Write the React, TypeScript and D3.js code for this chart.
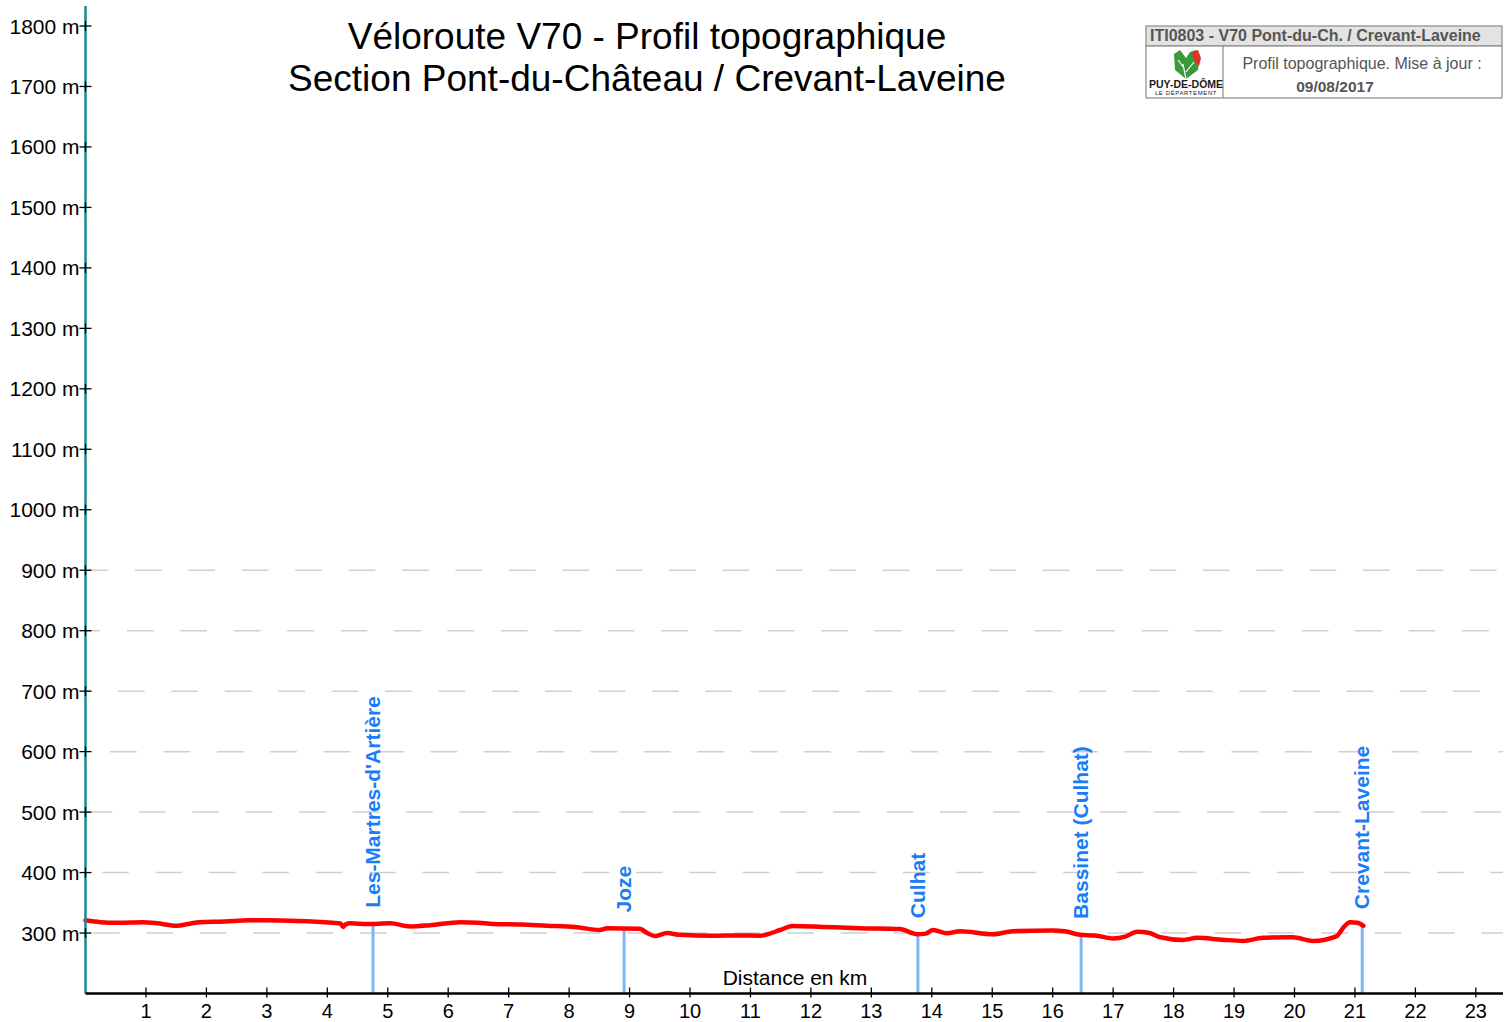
import * as d3 from "d3";

// profile: [km, altitude m]
const profileKm = [
  0, 0.25, 0.52, 0.95, 1.2, 1.51, 1.7, 1.89, 2.3, 2.7, 3.0, 3.5, 4.09, 4.22, 4.26, 4.3, 4.38, 4.66,
  5.04, 5.37, 5.7, 6.2, 6.5, 6.74, 7.2, 7.63, 8.1, 8.51, 8.63, 9.17, 9.29, 9.42, 9.62, 9.83, 10.38,
  10.8, 11.16, 11.32, 11.49, 11.7, 12.2, 12.81, 13.47, 13.76, 13.9, 14.02, 14.25, 14.47, 15.01, 15.34,
  16.0, 16.2, 16.45, 16.7, 17.0, 17.2, 17.4, 17.6, 17.78, 18.16, 18.39, 18.8, 19.15, 19.48, 19.97,
  20.31, 20.7, 20.8, 20.92, 21.04, 21.14,
];
const profileAlt = [
  321, 318, 317, 318, 316, 312, 315, 318, 319, 321, 321, 320, 317, 316, 310, 314, 316, 315,
  316, 311, 313, 318, 317, 315, 314, 312, 310, 305, 308, 307, 300, 295, 300, 297, 295.5,
  296, 295.5, 299, 305, 311.6, 310, 308, 306.6, 298, 299, 305, 299.5, 303, 298, 303,
  304, 303, 297, 296, 291, 294, 302, 300, 293, 288.5, 292, 289, 287, 292, 293,
  287, 295, 308, 317.7, 317, 312,
];

const markerNames = ["Les-Martres-d'Artière", "Joze", "Culhat", "Bassinet (Culhat)", "Crevant-Laveine"];
const markerKm = [4.756, 8.91, 13.77, 16.47, 21.12];

const altTicks = [300, 400, 500, 600, 700, 800, 900, 1000, 1100, 1200, 1300, 1400, 1500, 1600, 1700, 1800];
const gridAlts = [300, 400, 500, 600, 700, 800, 900];
const gridDashStart = [93, 102, 139, 110, 118, 127, 135];
const kmTicks = d3.range(1, 24);

const W = 1510;
const H = 1022;
const DASH = 26.7;

export default function App() {
  const x = d3.scaleLinear().domain([0, 22]).range([85.5, 1415.4]);
  const y = d3.scaleLinear().domain([200, 1800]).range([993.5, 26]);

  const data = profileKm.map((k, i) => ({ km: k, alt: profileAlt[i] }));
  const line = d3
    .line<{ km: number; alt: number }>()
    .x((d) => x(d.km))
    .y((d) => y(d.alt))
    .curve(d3.curveMonotoneX);

  const altAt = (k: number) => {
    const i = d3.bisector((d: { km: number }) => d.km).left(data, k);
    const a = data[Math.max(0, i - 1)];
    const b = data[Math.min(data.length - 1, i)];
    if (a === b) return a.alt;
    return a.alt + ((b.alt - a.alt) * (k - a.km)) / (b.km - a.km);
  };

  const font = "'Liberation Sans', Arial, sans-serif";
  const x0 = x(0);
  const x1 = 1503;
  const axisY = y(200);

  return (
    <svg
      width={W}
      height={H}
      style={{ position: "absolute", left: 0, top: 0, background: "#fff" }}
      fontFamily={font}
    >
      {/* grid */}
      {gridAlts.map((a, i) => {
        const off = (2 * DASH - ((gridDashStart[i] - x0) % (2 * DASH))) % (2 * DASH);
        return (
          <line
            key={a}
            x1={x0}
            x2={x1}
            y1={y(a)}
            y2={y(a)}
            stroke="#cfcfcf"
            strokeWidth={1.5}
            strokeDasharray={`${DASH} ${DASH}`}
            strokeDashoffset={off}
          />
        );
      })}

      {/* title */}
      <text x={647} y={49} fontSize={37} textAnchor="middle" fill="#000">
        Véloroute V70 - Profil topographique
      </text>
      <text x={647} y={91} fontSize={37} textAnchor="middle" fill="#000">
        Section Pont-du-Château / Crevant-Laveine
      </text>

      {/* marker lines */}
      {markerKm.map((k, i) => (
        <line
          key={"m" + i}
          x1={x(k)}
          x2={x(k)}
          y1={y(altAt(k))}
          y2={axisY}
          stroke="#7db6f5"
          strokeWidth={3}
        />
      ))}

      {/* profile */}
      <path
        d={line(data) || ""}
        fill="none"
        stroke="#ff0000"
        strokeWidth={4.5}
        strokeLinejoin="round"
        strokeLinecap="round"
      />

      {/* marker labels */}
      {markerKm.map((k, i) => {
        const px = x(k) + 7;
        const py = y(altAt(k)) - 16;
        return (
          <text
            key={"t" + i}
            transform={`translate(${px},${py}) rotate(-90)`}
            fontSize={21}
            fontWeight="bold"
            fill="#1a7cf7"
          >
            {markerNames[i]}
          </text>
        );
      })}

      {/* y axis */}
      <line x1={x0} x2={x0} y1={6} y2={axisY} stroke="#1a8a8c" strokeWidth={2.5} />
      {altTicks.map((a) => (
        <g key={"y" + a}>
          <line x1={x0 - 6} x2={x0 + 6} y1={y(a)} y2={y(a)} stroke="#000" strokeWidth={1.3} />
          <line x1={x0} x2={x0} y1={y(a) - 5} y2={y(a) + 5} stroke="#000" strokeWidth={1.3} />
          <text x={x0 - 6} y={y(a) + 7.5} fontSize={21} textAnchor="end" fill="#000">
            {a} m
          </text>
        </g>
      ))}

      {/* x axis */}
      <line x1={x0} x2={x1} y1={axisY} y2={axisY} stroke="#000" strokeWidth={2.5} />
      {kmTicks.map((k) => (
        <g key={"x" + k}>
          <line x1={x(k)} x2={x(k)} y1={axisY - 6} y2={axisY + 4} stroke="#000" strokeWidth={1.3} />
          <text x={x(k)} y={1018} fontSize={20} textAnchor="middle" fill="#000">
            {k}
          </text>
        </g>
      ))}
      <text x={795} y={985} fontSize={21} textAnchor="middle" fill="#000">
        Distance en km
      </text>

      {/* info box */}
      <g>
        <rect x={1146} y={26} width={356} height={20} fill="#e3e3e3" stroke="#8a8a8a" strokeWidth={1.2} />
        <rect x={1146} y={46} width={356} height={52} fill="#fff" stroke="#8a8a8a" strokeWidth={1.2} />
        <line x1={1223} x2={1223} y1={46} y2={98} stroke="#8a8a8a" strokeWidth={1.2} />
        <text x={1150} y={41} fontSize={16} fontWeight="bold" fill="#555">
          ITI0803 - V70 Pont-du-Ch. / Crevant-Laveine
        </text>
        <text x={1362} y={69} fontSize={16} textAnchor="middle" fill="#555">
          Profil topographique. Mise à jour :
        </text>
        <text x={1335} y={92} fontSize={15.5} fontWeight="bold" textAnchor="middle" fill="#555">
          09/08/2017
        </text>
        {/* logo */}
        <path d="M1174,54 L1180,50 L1186,58 L1190,52 L1196,50 L1200,56 L1198,70 L1186,79 L1175,70 Z" fill="#3a9a3a" />
        <path d="M1192,52 L1198,50 L1201,58 L1199,66 L1194,60 Z" fill="#e0302a" />
        <path d="M1186,79 L1183,64 M1186,72 L1194,62 M1184,68 L1178,60" stroke="#fff" strokeWidth={1.2} fill="none" />
        <text x={1186} y={88} fontSize={10.5} fontWeight="bold" textAnchor="middle" fill="#1a1a1a">
          PUY-DE-DÔME
        </text>
        <text x={1186} y={95} fontSize={6} textAnchor="middle" fill="#1a1a1a" letterSpacing={0.6}>
          LE DÉPARTEMENT
        </text>
      </g>
    </svg>
  );
}
